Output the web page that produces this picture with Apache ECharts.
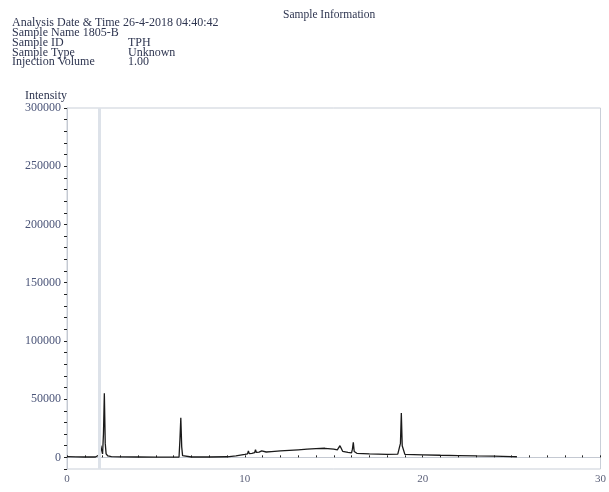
<!DOCTYPE html>
<html>
<head>
<meta charset="utf-8">
<script src="https://cdn.jsdelivr.net/npm/echarts@6/dist/echarts.min.js"></script>
<style>
  html, body { margin: 0; padding: 0; background: #fff; }
  #chart { width: 609px; height: 492px; }
</style>
</head>
<body>
<div id="chart"></div>
<script>
// retention time (min) and intensity
const times = [0, 0.5, 1.0, 1.6, 1.8, 1.9, 1.95, 2.0, 2.05, 2.1, 2.15, 2.2, 2.3, 2.5, 3.0, 4.0, 5.0,
  6.0, 6.3, 6.35, 6.4, 6.45, 6.5, 6.6, 7.0, 8.0, 9.0, 9.5, 10.0, 10.15, 10.2, 10.25, 10.4, 10.55,
  10.6, 10.65, 10.8, 10.9, 10.95, 11.2, 11.5, 12.0, 12.5, 13.0, 13.5, 14.0, 14.5, 15.0, 15.2,
  15.3, 15.35, 15.5, 15.8, 16.0, 16.05, 16.1, 16.15, 16.3, 17.0, 18.0, 18.6, 18.75, 18.8, 18.85,
  19.0, 20.0, 21.0, 22.0, 23.0, 24.0, 25.0, 25.3];
const intensity = [600, 400, 300, 300, 2000, 10000, 6000, 3000, 20000, 55000, 12000, 3000, 1200, 600, 400, 300, 200,
  200, 300, 15000, 34000, 9000, 1500, 500, 300, 300, 500, 1200, 2500, 3000, 5500, 3200, 3500, 4000,
  6500, 4200, 4500, 4300, 5500, 4600, 5000, 5500, 6000, 6500, 7000, 7500, 7800, 7000, 6500,
  6200, 10000, 5200, 4300, 3800, 7000, 13000, 5000, 3500, 3000, 2500, 2800, 12000, 38000, 10000,
  2600, 2200, 1800, 1500, 1200, 1000, 700, 500];
const yLabels = [0, 50000, 100000, 150000, 200000, 250000, 300000];
const xLabels = [0, 10, 20, 30];
const solventDelay = 1.8;

const headLeft = [
  'Analysis Date & Time 26-4-2018 04:40:42',
  'Sample Name 1805-B',
  'Sample ID',
  'Sample Type',
  'Injection Volume'
];
const headRight = ['', '', 'TPH', 'Unknown', '1.00'];

const serif = '"Liberation Serif", "DejaVu Serif", serif';
const ink = '#2e3550';

const chart = echarts.init(document.getElementById('chart'));

const graphics = [{
  type: 'text', left: 283, top: 9,
  style: { text: 'Sample Information', font: '11.5px ' + serif, fill: ink }
}];
headLeft.forEach((t, i) => {
  graphics.push({ type: 'text', left: 12, top: 17 + i * 9.8,
    style: { text: t, font: '12px ' + serif, fill: ink } });
  if (headRight[i]) {
    graphics.push({ type: 'text', left: 128, top: 17 + i * 9.8,
      style: { text: headRight[i], font: '12px ' + serif, fill: ink } });
  }
});

chart.setOption({
  animation: false,
  backgroundColor: '#fff',
  graphic: graphics,
  grid: {
    left: 67, right: 4, top: 108, bottom: 23,
    show: true, borderColor: '#c9cfd8', borderWidth: 1
  },
  xAxis: {
    type: 'value', min: 0, max: 30, interval: 1,
    axisLine: { lineStyle: { color: '#c4c9d2' } },
    axisTick: { show: true, length: 2, inside: true, lineStyle: { color: '#222' } },
    axisLabel: {
      margin: 5, color: '#5a5f78', fontSize: 11, fontFamily: serif,
      formatter: v => (xLabels.indexOf(v) >= 0 ? String(v) : '')
    },
    splitLine: { show: false }
  },
  yAxis: {
    type: 'value', min: -10000, max: 300000, interval: 10000,
    name: 'Intensity', nameLocation: 'end', nameGap: 5,
    nameTextStyle: { align: 'right', color: ink, fontSize: 12, fontFamily: serif, padding: [0, 0, 0, 0] },
    axisLine: { show: true, lineStyle: { color: '#c4c9d2' } },
    axisTick: { show: true, length: 3, lineStyle: { color: '#222' } },
    axisLabel: {
      margin: 6, color: '#4a5478', fontSize: 12, fontFamily: serif,
      formatter: v => (yLabels.indexOf(v) >= 0 ? String(v) : '')
    },
    splitLine: { show: false }
  },
  series: [{
    type: 'line',
    data: times.map((t, i) => [t, intensity[i]]),
    showSymbol: false,
    sampling: false,
    lineStyle: { color: '#1a1a1a', width: 1.3 },
    markLine: {
      silent: true, symbol: 'none',
      label: { show: false },
      lineStyle: { color: '#dde2e9', width: 3, type: 'solid' },
      data: [{ xAxis: solventDelay }]
    }
  }]
});
</script>
</body>
</html>
